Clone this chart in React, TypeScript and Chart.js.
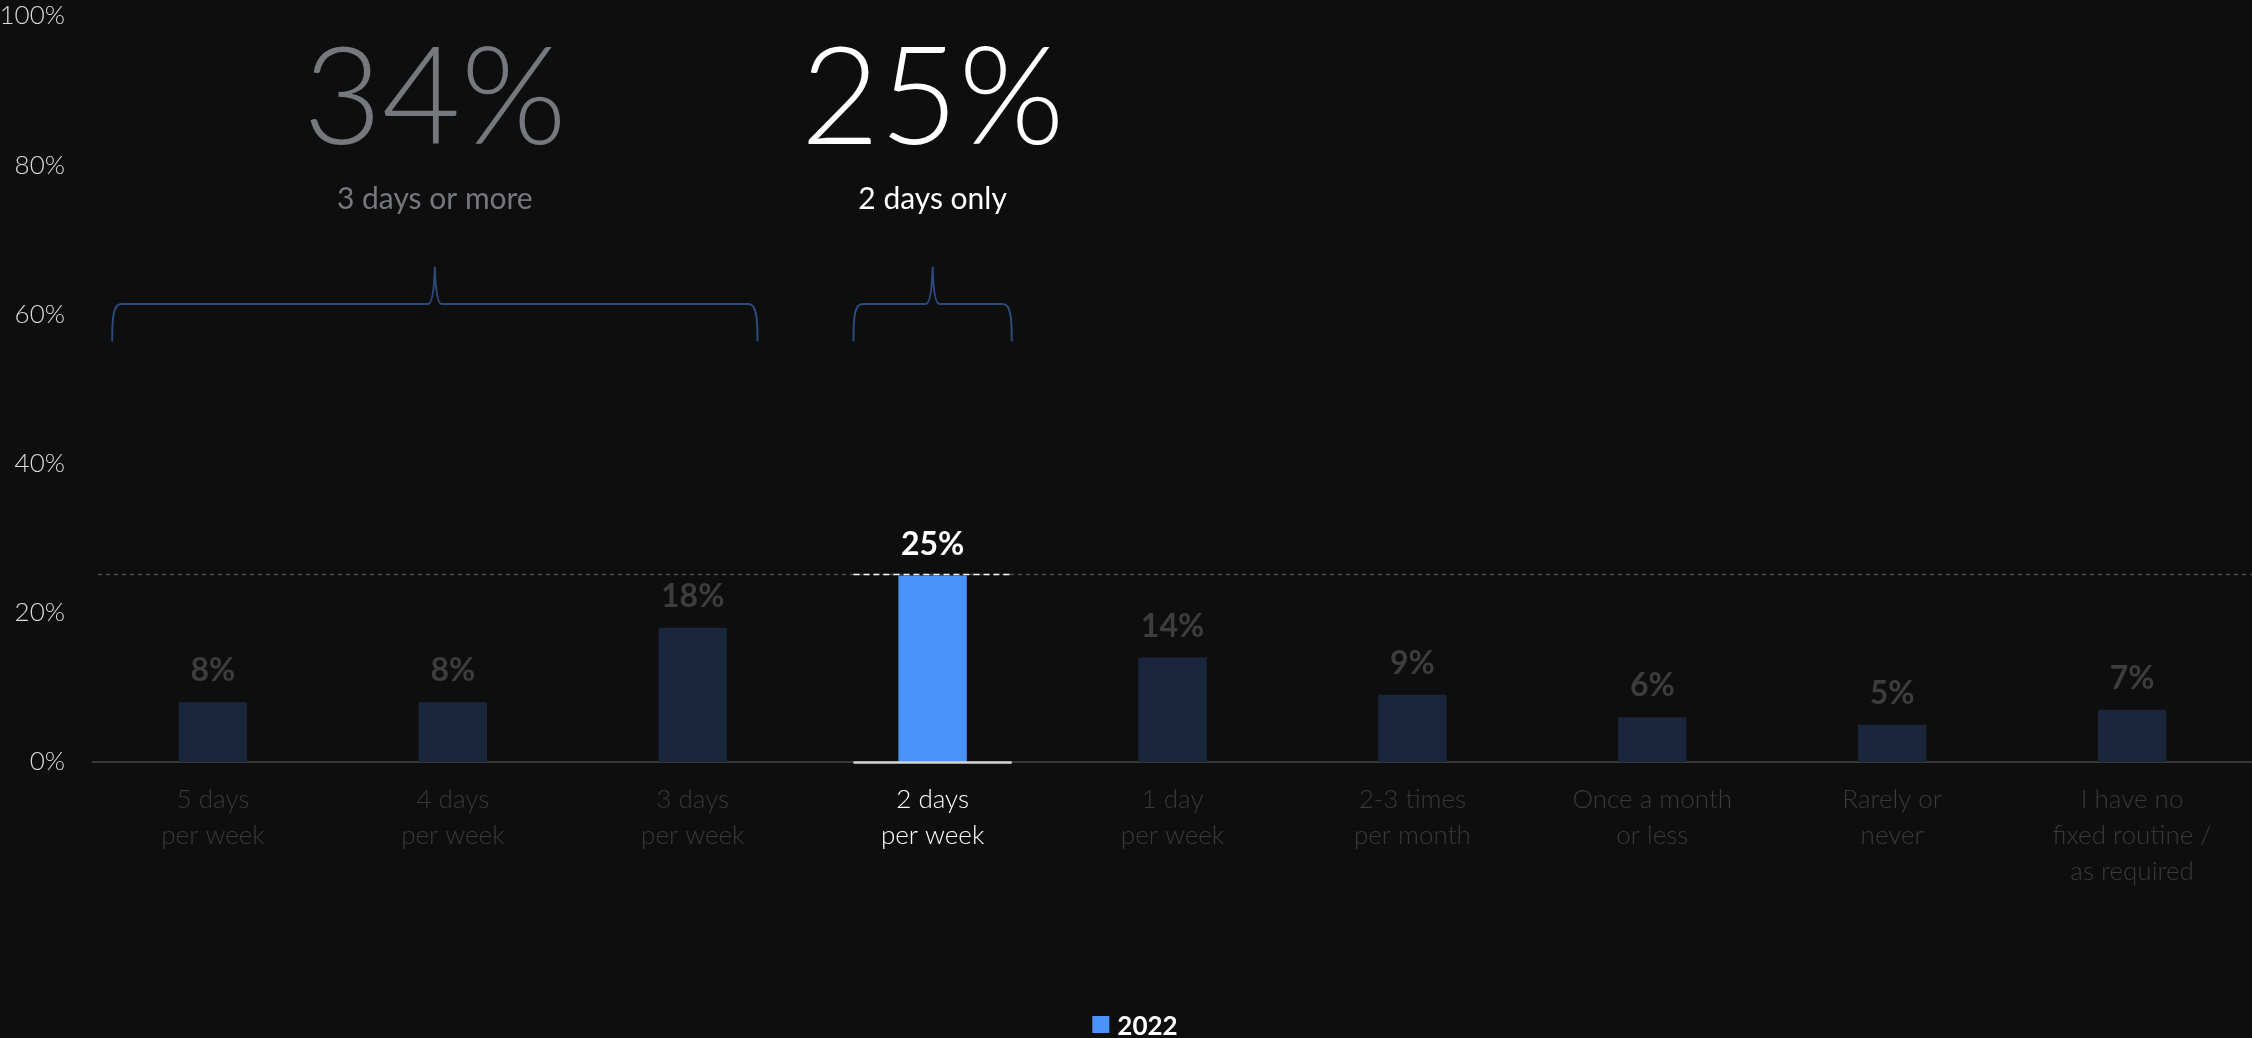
import React, { useEffect, useRef } from 'react';
import { Chart, registerables } from 'chart.js';

Chart.register(...registerables);

// ---------- data ----------
const categories: string[][] = [
  ['5 days', 'per week'],
  ['4 days', 'per week'],
  ['3 days', 'per week'],
  ['2 days', 'per week'],
  ['1 day', 'per week'],
  ['2-3 times', 'per month'],
  ['Once a month', 'or less'],
  ['Rarely or', 'never'],
  ['I have no', 'fixed routine /', 'as required'],
];
const seriesLabel = '2022';
const values2022 = [8, 8, 18, 25, 14, 9, 6, 5, 7];
const highlightIndex = 3;
const yMin = 0;
const yMax = 100;
const yStep = 20;
const groupValues = [34, 25];
const groupLabels = ['3 days or more', '2 days only'];

// ---------- styling / layout ----------
const W = 2252;
const H = 1038;
const BG = '#0e0e0e';
const NAVY = '#1a263b';
const BLUE = '#4a93f8';
const DIM = '#3a3a3a';
const FONT = 'Lato, "Open Sans", sans-serif';
// bracket extents in category units (relative to first category centre)
const bracketExtents = [
  [-0.42, 2.27],
  [2.67, 3.33],
];
const groupColors = ['#75787d', '#ffffff'];

const overlayPlugin = {
  id: 'overlay',
  afterDatasetsDraw(chart: any) {
    const { ctx, chartArea } = chart;
    const x = chart.scales.x;
    const y = chart.scales.y;
    const band = x.getPixelForValue(1) - x.getPixelForValue(0);
    const xAt = (v: number) => x.getPixelForValue(0) + v * band;
    const meta = chart.getDatasetMeta(0);
    ctx.save();

    // reference dashed line at highlighted value
    const hv = values2022[highlightIndex];
    const yh = Math.round(y.getPixelForValue(hv)) - 1.5;
    ctx.setLineDash([4, 4]);
    ctx.strokeStyle = '#4a4a4a';
    ctx.lineWidth = 1.5;
    ctx.beginPath();
    ctx.moveTo(chartArea.left + 5, yh);
    ctx.lineTo(chartArea.right, yh);
    ctx.stroke();

    const [hl, hr] = bracketExtents[1].map(xAt);
    ctx.setLineDash([6, 4]);
    ctx.strokeStyle = '#ffffff';
    ctx.beginPath();
    ctx.moveTo(hl, yh);
    ctx.lineTo(hr, yh);
    ctx.stroke();

    // solid white base segment
    ctx.setLineDash([]);
    ctx.strokeStyle = '#d4d4d4';
    ctx.lineWidth = 2.5;
    const yb = y.getPixelForValue(0) + 0.5;
    ctx.beginPath();
    ctx.moveTo(hl, yb);
    ctx.lineTo(hr, yb);
    ctx.stroke();

    // value labels
    ctx.font = `bold 32px ${FONT}`;
    ctx.textAlign = 'center';
    ctx.textBaseline = 'alphabetic';
    meta.data.forEach((bar: any, i: number) => {
      ctx.fillStyle = i === highlightIndex ? '#ffffff' : '#3d3d3d';
      ctx.fillText(values2022[i] + '%', bar.x, bar.y - 21);
    });

    // brackets + group annotations
    const yH = y.getPixelForValue(61.4);
    const yB = y.getPixelForValue(56.4);
    const yT = y.getPixelForValue(66.4);
    ctx.strokeStyle = '#2c4a7a';
    ctx.lineWidth = 2;
    bracketExtents.forEach((ext, gi) => {
      const L = xAt(ext[0]);
      const R = xAt(ext[1]);
      const P = (L + R) / 2;
      ctx.beginPath();
      ctx.moveTo(L, yB);
      ctx.bezierCurveTo(L, yH + 14, L + 1, yH, L + 9, yH);
      ctx.lineTo(P - 7, yH);
      ctx.quadraticCurveTo(P - 1, yH, P, yT);
      ctx.quadraticCurveTo(P + 1, yH, P + 7, yH);
      ctx.lineTo(R - 9, yH);
      ctx.bezierCurveTo(R - 1, yH, R, yH + 14, R, yB);
      ctx.stroke();

      ctx.fillStyle = groupColors[gi];
      ctx.font = `300 136px ${FONT}`;
      ctx.fillText(groupValues[gi] + '%', P, y.getPixelForValue(82.9));
      ctx.font = `400 30px ${FONT}`;
      ctx.fillText(groupLabels[gi], P, y.getPixelForValue(74.1));
    });
    ctx.restore();
  },
  afterDraw(chart: any) {
    const { ctx } = chart;
    const ds = chart.data.datasets[0];
    ctx.save();
    ctx.font = `bold 26px ${FONT}`;
    const tw = ctx.measureText(ds.label).width;
    const total = 17 + 8 + tw;
    const left = chart.width / 2 + 9 - total / 2;
    ctx.fillStyle = BLUE;
    ctx.fillRect(left, 1016, 17, 17);
    ctx.fillStyle = '#ffffff';
    ctx.textAlign = 'left';
    ctx.textBaseline = 'alphabetic';
    ctx.fillText(ds.label, left + 25, 1035);
    ctx.restore();
  },
};

export default function App() {
  const ref = useRef<HTMLCanvasElement | null>(null);

  useEffect(() => {
    document.body.style.margin = '0';
    document.body.style.background = BG;
    const canvas = ref.current;
    if (!canvas) return;
    const chart = new Chart(canvas, {
      type: 'bar',
      data: {
        labels: categories,
        datasets: [
          {
            label: seriesLabel,
            data: values2022,
            backgroundColor: values2022.map((_, i) => (i === highlightIndex ? BLUE : NAVY)),
            barPercentage: 0.285,
            categoryPercentage: 1,
          },
        ],
      },
      options: {
        responsive: false,
        maintainAspectRatio: false,
        animation: false,
        devicePixelRatio: 1,
        layout: { padding: { top: 16, left: 0, right: 0, bottom: 0 } },
        plugins: {
          legend: { display: false },
          tooltip: { enabled: false },
        },
        scales: {
          x: {
            grid: { display: false, drawTicks: false },
            border: { display: true, color: '#383838', width: 2 },
            ticks: {
              padding: 20,
              maxRotation: 0,
              autoSkip: false,
              color: (c: any) => (c.index === highlightIndex ? '#ffffff' : DIM),
              font: { family: FONT, size: 26, weight: '300', lineHeight: 36 / 26 },
            },
            afterFit: (s: any) => {
              s.height = 276;
              s.paddingLeft = 0;
              s.paddingRight = 0;
            },
          },
          y: {
            min: yMin,
            max: yMax,
            grid: { display: false, drawTicks: false },
            border: { display: false },
            ticks: {
              stepSize: yStep,
              padding: 28,
              color: '#dcdcdc',
              font: { family: FONT, size: 26, weight: '300' },
              callback: (v: any) => v + '%',
            },
            afterFit: (s: any) => {
              s.width = 93;
              s.paddingTop = 0;
              s.paddingBottom = 0;
            },
          },
        },
      },
      plugins: [overlayPlugin],
    });
    return () => chart.destroy();
  }, []);

  return (
    <div style={{ position: 'fixed', left: 0, top: 0, width: W, height: H, background: BG }}>
      <canvas ref={ref} width={W} height={H} style={{ display: 'block', width: W, height: H }} />
    </div>
  );
}
